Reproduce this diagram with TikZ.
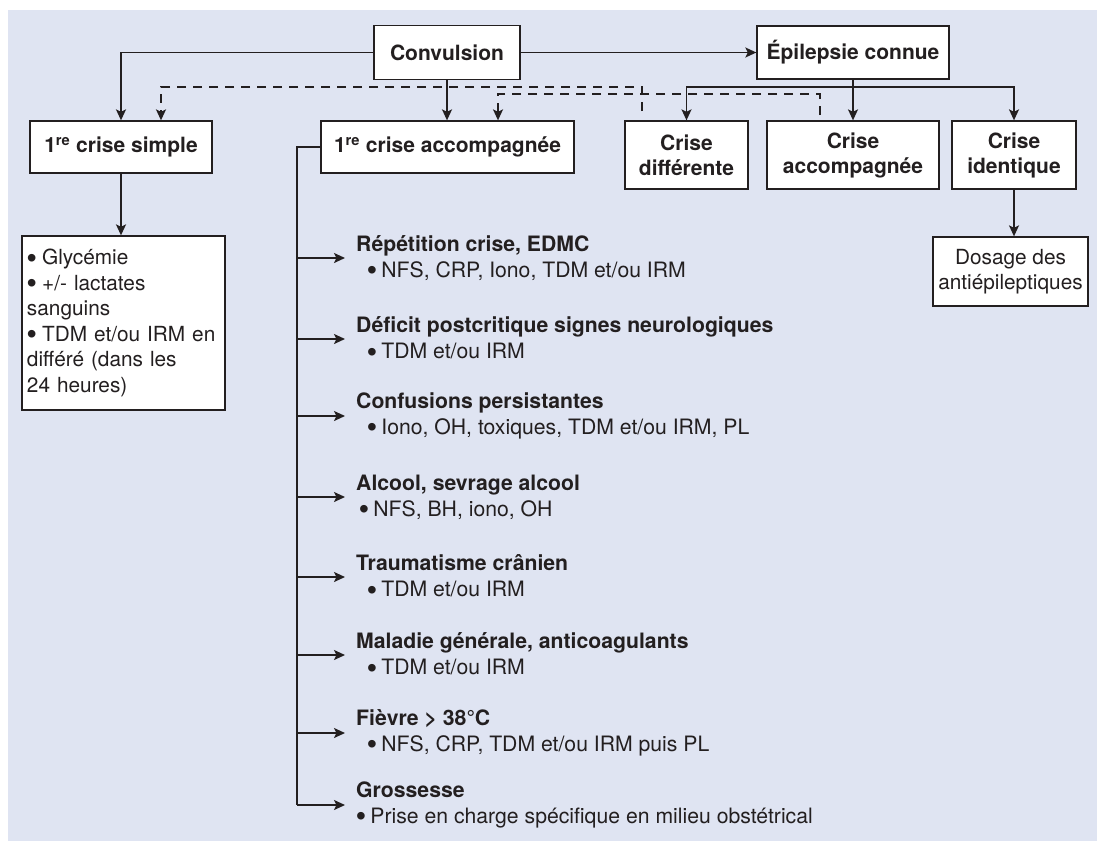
\documentclass[tikz,border=0pt]{standalone}
\usepackage{fontspec}
\setmainfont{TeX Gyre Heros}
\newfontfamily\bulletfont{Liberation Sans}
\usetikzlibrary{arrows.meta,calc}
\definecolor{bg}{RGB}{223,228,242}
\definecolor{ink}{RGB}{35,31,32}
\tikzset{
  boxb/.style={draw=ink, line width=1.3pt, fill=white, align=center, inner sep=0pt,
    text=ink, font=\fontsize{21}{25}\selectfont\bfseries},
  boxr/.style={draw=ink, line width=1.3pt, fill=white, align=center, inner sep=0pt,
    text=ink, font=\fontsize{20.8}{25.5}\selectfont},
  conn/.style={draw=ink, line width=1.8pt},
  arr/.style={conn, -{Stealth[length=11pt,width=10pt,inset=2.5pt]}},
  darr/.style={arr, dash pattern=on 9pt off 7pt},
  item/.style={anchor=west, align=left, inner xsep=11pt, inner ysep=0pt, text=ink,
    font=\fontsize{21.2}{26}\selectfont},
}
\newcommand{\ttl}[1]{{\bfseries #1}}
\newcommand{\bul}{\raisebox{-2.2pt}{\bulletfont\fontsize{28}{26}\selectfont •}\hspace{-1.5pt}}
\begin{document}
\begin{tikzpicture}[x=1pt,y=-1pt]
\useasboundingbox (0,0) rectangle (1097,841);
\fill[bg] (8,10) rectangle (1097,841);

% top boxes
\node[boxb, minimum width=146pt, minimum height=54pt] (conv) at (447,52.5) {Convulsion};
\node[boxb, minimum width=192pt, minimum height=53pt] (epi) at (853,52.5) {Épilepsie connue};
\node[boxb, minimum width=182pt, minimum height=52pt] (simple) at (121,147) {1\textsuperscript{re} crise simple};
\node[boxb, minimum width=253pt, minimum height=52pt] (acc1) at (447.5,147) {1\textsuperscript{re} crise accompagnée};
\node[boxb, minimum width=123pt, minimum height=68pt] (cdiff) at (686.5,155) {Crise\\différente};
\node[boxb, minimum width=172pt, minimum height=68pt] (cacc) at (853,155) {Crise\\accompagnée};
\node[boxb, minimum width=124pt, minimum height=68pt] (cid) at (1014,155) {Crise\\identique};

% lower boxes
\node[boxr, align=left, text width=193pt, inner xsep=5pt, minimum height=174pt] (glyc) at (123.5,323)
  {\bul{} Glycémie\\\bul{} +/- lactates\\sanguins\\\bul{} TDM et/ou IRM en\\différé (dans les\\24 heures)};
\node[boxr, minimum width=155pt, minimum height=69pt] (dos) at (1010.5,271.5) {Dosage des\\antiépileptiques};

% items
\node[item] (i1) at (345,258) {\ttl{Répétition crise, EDMC}\\\hspace*{11pt}\bul{} NFS, CRP, Iono, TDM et/ou IRM};
\node[item] (i2) at (345,339) {\ttl{Déficit postcritique signes neurologiques}\\\hspace*{11pt}\bul{} TDM et/ou IRM};
\node[item] (i3) at (345,416) {\ttl{Confusions persistantes}\\\hspace*{11pt}\bul{} Iono, OH, toxiques, TDM et/ou IRM, PL};
\node[item] (i4) at (345,497) {\ttl{Alcool, sevrage alcool}\\\hspace*{3pt}\bul{} NFS, BH, iono, OH};
\node[item] (i5) at (345,577) {\ttl{Traumatisme crânien}\\\hspace*{11pt}\bul{} TDM et/ou IRM};
\node[item] (i6) at (345,655) {\ttl{Maladie générale, anticoagulants}\\\hspace*{11pt}\bul{} TDM et/ou IRM};
\node[item] (i7) at (345,733) {\ttl{Fièvre > 38°C}\\\hspace*{11pt}\bul{} NFS, CRP, TDM et/ou IRM puis PL};
\node[item] (i8) at (345,805) {\ttl{Grossesse}\\\bul{} Prise en charge spécifique en milieu obstétrical};

% coordinates
\coordinate (hub) at (853,87);
\coordinate (dA) at (642,111);
\coordinate (dAturn) at (642,87);
\coordinate (dB) at (820,115);
\coordinate (dBturn) at (820,94);
\coordinate (tb) at (297,805);

% solid connectors
\draw[arr] (conv.west) -| (simple.north);
\draw[arr] (conv.east) -- (epi.west);
\draw[arr] (conv.south) -- (conv.south |- acc1.north);
\draw[arr] (epi.south) -- (cacc.north);
\draw[arr] (hub) -| (cdiff.north);
\draw[arr] (hub) -| (cid.north);
\draw[arr] (simple.south) -- (simple.south |- glyc.north);
\draw[arr] (cid.south) -- (cid.south |- dos.north);

% dashed connectors
\draw[darr] (dA) -- (dAturn) -| ([xshift=40pt]simple.north);
\draw[darr] (dB) -- (dBturn) -| ([xshift=50.5pt]acc1.north);

% trunk
\draw[conn] (acc1.west) -| (tb);
\draw[arr] (tb) -- (i8.west);
\foreach \n in {i1,i2,i3,i4,i5,i6,i7}
  \draw[arr] (\n.west -| tb) -- (\n.west);
\end{tikzpicture}
\end{document}
